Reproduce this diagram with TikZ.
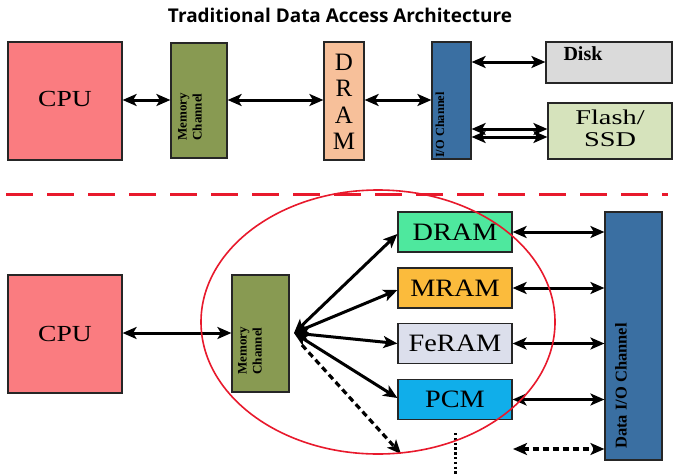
\documentclass[tikz,border=0pt]{standalone}
\usepackage{fontspec}
\usepackage{graphicx}
\setmainfont{Liberation Serif}
\newfontfamily\titlefont{Open Sans}
\usetikzlibrary{arrows.meta}

\definecolor{cpuc}{RGB}{250,124,128}
\definecolor{mcc}{RGB}{136,154,82}
\definecolor{peach}{RGB}{247,192,154}
\definecolor{ioc}{RGB}{58,111,162}
\definecolor{diskc}{RGB}{218,218,218}
\definecolor{flashc}{RGB}{214,227,188}
\definecolor{mint}{RGB}{78,232,158}
\definecolor{mramc}{RGB}{251,187,60}
\definecolor{ferc}{RGB}{220,223,236}
\definecolor{pcmc}{RGB}{16,174,234}
\definecolor{redc}{RGB}{232,25,44}

\newcommand\sx[2]{\scalebox{#1}[1]{#2}}
\newcommand\fs[1]{\fontsize{#1}{#1}\selectfont}
\newcommand\chanfont{\fontsize{13}{15}\selectfont\bfseries}

\tikzset{
  box/.style={draw=black!85, line width=1.2pt, inner sep=0pt, anchor=center},
  lbl/.style={inner sep=0pt, anchor=center, align=center},
  tip/.tip={Stealth[length=14pt,width=12pt,inset=3.5pt]},
  conn/.style={line width=3pt, tip-tip},
  dconn/.style={line width=3.2pt, dash pattern=on 6pt off 4pt},
}

\begin{document}
\begin{tikzpicture}[x=1pt,y=-1pt]
\useasboundingbox (0,0) rectangle (676,474);
\fill[white] (0,0) rectangle (676,474);

% title
\node[lbl] (title) at (340,15) {\titlefont\bfseries\resizebox{344pt}{!}{Traditional Data Access Architecture}};

% ---------- top row ----------
\node[box, fill=cpuc, minimum width=114pt, minimum height=118pt] (cpu1) at (65,101) {};
\node[lbl] (cpu1t) at (65,99) {\fs{23}\sx{1.2}{CPU}};

\node[box, fill=mcc, minimum width=56pt, minimum height=115pt] (mc1) at (199,100.5) {};
\node[lbl, rotate=90, font=\chanfont] (mc1t) at (190,117) {Memory\\Channel};

\node[box, fill=peach, minimum width=40pt, minimum height=118pt] (dram1) at (344,101) {};
\node[lbl, font=\fontsize{25}{26.5}\selectfont] (dram1t) at (344,102) {D\\R\\A\\M};

\node[box, fill=ioc, minimum width=39pt, minimum height=117pt] (io1) at (451.5,100.5) {};
\node[lbl, rotate=90, font=\fontsize{12.4}{14}\selectfont\bfseries] (io1t) at (440,125) {I/O Channel};

\node[box, fill=diskc, minimum width=126pt, minimum height=41pt] (disk) at (609,62.5) {};
\node[lbl, font=\fs{20}\bfseries] (diskt) at (583,54) {Disk};

\node[box, fill=flashc, minimum width=124pt, minimum height=56pt] (flash) at (610,131) {};
\node[lbl, font=\fontsize{21}{22}\selectfont] (flasht) at (610,128) {\sx{1.35}{Flash/}\\ \sx{1.35}{SSD}};

\draw[conn] (cpu1.east |- 0,100) -- (mc1.west |- 0,100);
\draw[conn] (mc1.east |- 0,100) -- (dram1.west |- 0,100);
\draw[conn] (dram1.east |- 0,100) -- (io1.west |- 0,100);
\draw[conn] (io1.east |- 0,62) -- (disk.west |- 0,62);
\draw[conn] (io1.east |- 0,129) -- (flash.west |- 0,129);
\draw[conn] (io1.east |- 0,137) -- (flash.west |- 0,137);

% separator
\draw[redc, line width=3pt, dash pattern=on 27pt off 14pt] (6,194) -- (668,194);

% ---------- bottom ----------
\node[box, fill=cpuc, minimum width=114pt, minimum height=118pt] (cpu2) at (65,334) {};
\node[lbl] (cpu2t) at (65,334) {\fs{23}\sx{1.2}{CPU}};

\node[box, fill=mcc, minimum width=57pt, minimum height=117pt] (mc2) at (260.5,333.5) {};
\node[lbl, rotate=90, font=\chanfont] (mc2t) at (250,351) {Memory\\Channel};

\node[box, fill=mint, minimum width=114pt, minimum height=40pt] (dram2) at (455,232) {\fs{25}\sx{1.13}{DRAM}};
\node[box, fill=mramc, minimum width=114pt, minimum height=40pt] (mram) at (455,288) {\fs{25}\sx{1.13}{MRAM}};
\node[box, fill=ferc, minimum width=114pt, minimum height=40pt] (feram) at (455,343.5) {\fs{25}\sx{1.13}{FeRAM}};
\node[box, fill=pcmc, minimum width=114pt, minimum height=40pt] (pcm) at (455,399.5) {\fs{25}\sx{1.13}{PCM}};

\node[box, fill=ioc, minimum width=57pt, minimum height=248pt] (io2) at (633.5,336) {};
\node[lbl, rotate=90, font=\fontsize{16.5}{18}\selectfont\bfseries] (io2t) at (621,386) {Data I/O Channel};

\draw[conn] (cpu2.east |- 0,333) -- (mc2.west |- 0,333);

\coordinate (hub) at (294,333);
\draw[conn] (hub) -- (dram2.west |- 0,234);
\draw[conn] (hub) -- (mram.west |- 0,290);
\draw[conn] (hub) -- (feram.west);
\draw[conn] (hub) -- (pcm.west |- 0,398);

\coordinate (dstart) at (302,345);
\coordinate (dend) at (401,454);
\draw[dconn, -{Stealth[length=14pt,width=12pt,inset=3.5pt]}] (dstart) -- (dend);

\coordinate (dotA) at (455,433);
\coordinate (dotB) at (455,474);
\draw[line width=3pt, dash pattern=on 2.4pt off 2.4pt] (dotA) -- (dotB);

\draw[conn] (dram2.east) -- (dram2.east -| io2.west);
\draw[conn] (mram.east) -- (mram.east -| io2.west);
\draw[conn] (feram.east) -- (feram.east -| io2.west);
\draw[conn] (pcm.east) -- (pcm.east -| io2.west);

\coordinate (dleft) at (513,449);
\draw[dconn, tip-tip] (dleft) -- (dleft -| io2.west);

% grouping ellipse
\draw[redc, line width=1.6pt] (378,322) ellipse [x radius=177, y radius=132];
\end{tikzpicture}
\end{document}
